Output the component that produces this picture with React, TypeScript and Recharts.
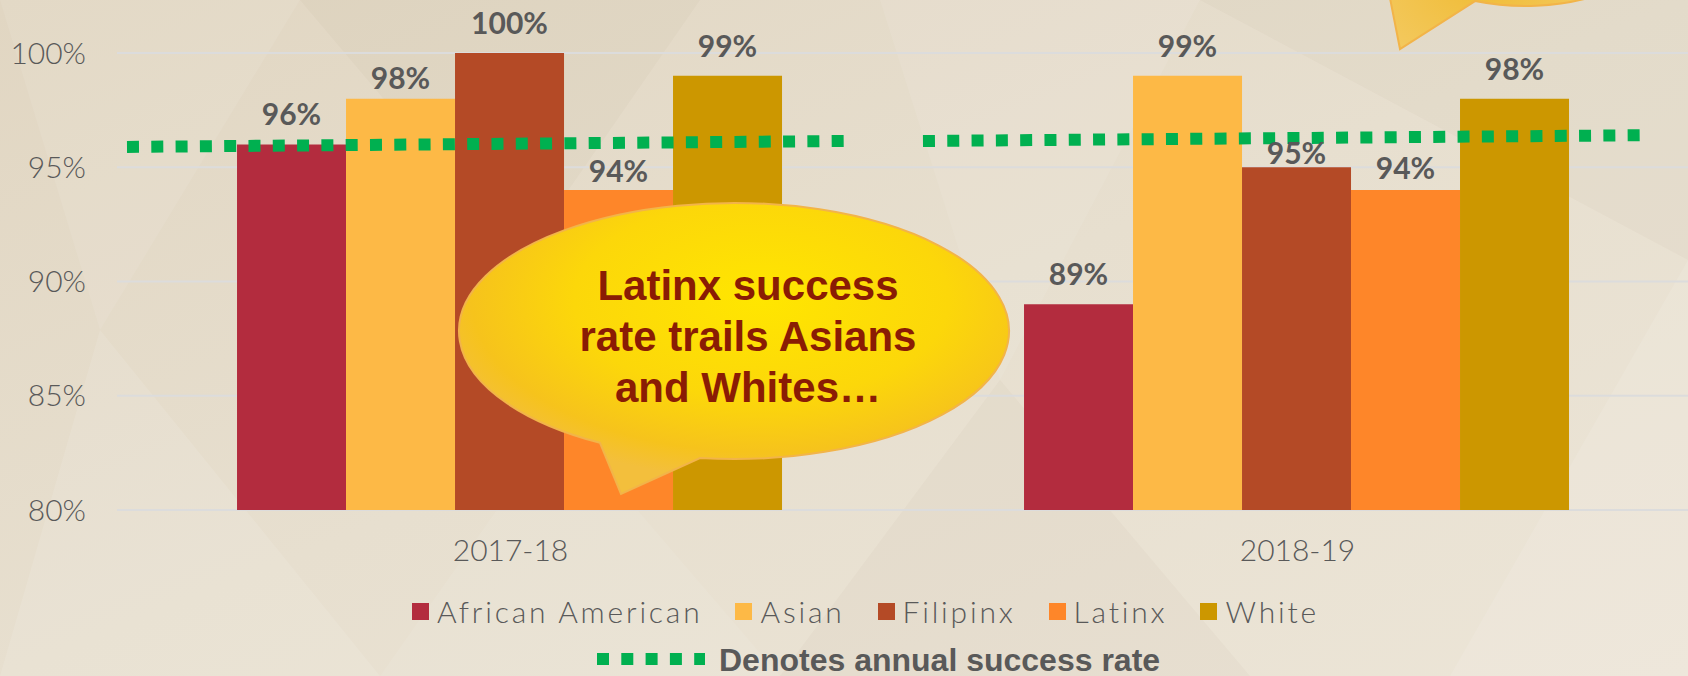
import React from 'react';
import { BarChart, Bar, XAxis, YAxis, CartesianGrid, ReferenceLine, LabelList, Legend } from 'recharts';

// ---- data ----
const categories = ['2017-18', '2018-19'];
const africanAmerican = [96, 89];
const asian = [98, 99];
const filipinx = [100, 95];
const latinx = [94, 94];
const white = [99, 98];
// annual success rate dotted line (value at the start / end of each year's line)
const annualRateStart = [95.89, 96.15];
const annualRateEnd = [96.15, 96.4];
const yTicks = [80, 85, 90, 95, 100];

const seriesNames = ['African American', 'Asian', 'Filipinx', 'Latinx', 'White'];
const seriesKeys = ['africanAmerican', 'asian', 'filipinx', 'latinx', 'white'];
const seriesValues = [africanAmerican, asian, filipinx, latinx, white];
const seriesColors = ['#b32c3e', '#fdb946', '#b44a26', '#fe8629', '#cc9700'];

const data = categories.map((year, i) => {
  const row: any = { year };
  seriesKeys.forEach((k, s) => {
    row[k] = seriesValues[s][i];
  });
  return row;
});

// ---- styling ----
const FONT = "Lato, 'Open Sans', 'DejaVu Sans', sans-serif";
const TEXT_GRAY = '#595959';
const GREEN = '#00b050';
// horizontal extent of each year's dotted line, as a fraction of its category band
const lineSpans = [
  [0.0127, 0.9238],
  [0.0241, 0.9365],
];
const labelNudge: Record<string, number> = {
  'asian-0': 10,
  'latinx-0': 8,
  'filipinx-1': 3.5,
  'latinx-1': 11,
};

const makeLabel = (key: string) => (props: any) => {
  const { x, y, width, value, index } = props;
  const off = labelNudge[`${key}-${index}`] ?? 19;
  return (
    <text
      x={Number(x) + Number(width) / 2}
      y={Number(y) - off}
      textAnchor="middle"
      fontFamily={FONT}
      fontWeight={700}
      fontSize={30}
      fill={TEXT_GRAY}
    >
      {`${value}%`}
    </text>
  );
};

// The annual line of year i, extended to the two band centres (u = 0.5 and 1.5)
// so the library's own scales give us two reference points on it.
const annualSegment = (i: number) => {
  const ua = i + lineSpans[i][0];
  const ub = i + lineSpans[i][1];
  const slope = (annualRateEnd[i] - annualRateStart[i]) / (ub - ua);
  const vAt = (u: number) => annualRateStart[i] + (u - ua) * slope;
  return [
    { x: categories[0], y: vAt(0.5) },
    { x: categories[1], y: vAt(1.5) },
  ];
};

const annualShape = (i: number) => (p: any) => {
  const x1 = Number(p.x1);
  const y1 = Number(p.y1);
  const x2 = Number(p.x2);
  const y2 = Number(p.y2);
  const at = (u: number) => ({ x: x1 + (u - 0.5) * (x2 - x1), y: y1 + (u - 0.5) * (y2 - y1) });
  const a = at(i + lineSpans[i][0]);
  const b = at(i + lineSpans[i][1]);
  return (
    <line
      x1={a.x}
      y1={a.y}
      x2={b.x}
      y2={b.y}
      stroke={GREEN}
      strokeWidth={12}
      strokeDasharray="12 12.3"
    />
  );
};

const renderLegend = (props: any) => {
  const payload = props.payload || [];
  return (
    <div style={{ position: 'relative', width: 1688, height: 96 }}>
      <div
        style={{
          position: 'absolute',
          left: 412,
          top: 11,
          height: 40,
          display: 'flex',
          alignItems: 'center',
          whiteSpace: 'nowrap',
        }}
      >
        {payload.map((p: any, i: number) => (
          <div key={i} style={{ display: 'flex', alignItems: 'center', marginRight: 33 }}>
            <span
              style={{ width: 17, height: 17, background: p.color, marginRight: 8, display: 'inline-block' }}
            />
            <span
              style={{ fontFamily: FONT, fontWeight: 300, fontSize: 30, letterSpacing: 2.8, color: TEXT_GRAY }}
            >
              {p.value}
            </span>
          </div>
        ))}
      </div>
      <svg style={{ position: 'absolute', left: 0, top: 0 }} width={1688} height={96}>
        <line x1={597} x2={705} y1={79} y2={79} stroke={GREEN} strokeWidth={12} strokeDasharray="12 12.3" />
        <text
          x={719}
          y={90.5}
          fontFamily="'Liberation Sans', Arial, sans-serif"
          fontWeight={700}
          fontSize={32}
          fill={TEXT_GRAY}
        >
          Denotes annual success rate
        </text>
      </svg>
    </div>
  );
};

const Background = () => (
  <svg width={1688} height={676} style={{ position: 'absolute', left: 0, top: 0 }}>
    <defs>
      <linearGradient id="bg" x1="0" y1="0" x2="1" y2="1">
        <stop offset="0%" stopColor="#e1d6c2" />
        <stop offset="50%" stopColor="#e7dfcf" />
        <stop offset="100%" stopColor="#ece5d7" />
      </linearGradient>
    </defs>
    <rect x={0} y={0} width={1688} height={676} fill="url(#bg)" />
    <polygon points="0,0 300,0 100,330" fill="#ffffff" opacity={0.08} />
    <polygon points="100,330 0,676 380,676" fill="#ffffff" opacity={0.1} />
    <polygon points="300,0 700,0 520,260" fill="#8a6d3b" opacity={0.03} />
    <polygon points="880,0 1200,0 1000,380" fill="#ffffff" opacity={0.08} />
    <polygon points="1000,380 780,676 1250,676" fill="#8a6d3b" opacity={0.03} />
    <polygon points="1200,0 1688,0 1688,260" fill="#8a6d3b" opacity={0.03} />
    <polygon points="1688,260 1450,676 1688,676" fill="#ffffff" opacity={0.1} />
    <polygon points="380,676 560,420 780,676" fill="#ffffff" opacity={0.07} />
  </svg>
);

// y on the lower half of an axis-aligned ellipse
const lowerY = (cx: number, cy: number, rx: number, ry: number, x: number) => {
  const t = (x - cx) / rx;
  return cy + ry * Math.sqrt(Math.max(0, 1 - t * t));
};

const calloutPath = (
  cx: number,
  cy: number,
  rx: number,
  ry: number,
  leftBaseX: number,
  rightBaseX: number,
  tipX: number,
  tipY: number
) => {
  const yl = lowerY(cx, cy, rx, ry, leftBaseX);
  const yr = lowerY(cx, cy, rx, ry, rightBaseX);
  return `M ${rightBaseX} ${yr} A ${rx} ${ry} 0 1 0 ${leftBaseX} ${yl} L ${tipX} ${tipY} Z`;
};

const Bubbles = () => (
  <svg width={1688} height={676} style={{ position: 'absolute', left: 0, top: 0, pointerEvents: 'none' }}>
    <defs>
      <radialGradient id="bub" cx="0.55" cy="0.33" r="0.62">
        <stop offset="0%" stopColor="#ffe600" />
        <stop offset="55%" stopColor="#fcd70a" />
        <stop offset="85%" stopColor="#f6c31c" />
        <stop offset="100%" stopColor="#f3bf3c" />
      </radialGradient>
      <radialGradient id="bub2" cx="0.35" cy="0.7" r="0.6">
        <stop offset="0%" stopColor="#f0bc36" />
        <stop offset="100%" stopColor="#f5cf72" />
      </radialGradient>
    </defs>
    {/* main callout */}
    <path d={calloutPath(734, 331, 275, 128, 600, 700, 621, 494)} fill="url(#bub)" stroke="#f2b449" strokeWidth={2} />
    <g
      fontFamily="'Liberation Sans', Arial, sans-serif"
      fontWeight={700}
      fontSize={42}
      fill="#8a1c04"
      textAnchor="middle"
    >
      <text x={748} y={300}>Latinx success</text>
      <text x={748} y={351}>rate trails Asians</text>
      <text x={748} y={402}>and Whites…</text>
    </g>
    {/* top-right callout (mostly outside the picture) */}
    <path d={calloutPath(1525, -80, 150, 86, 1378, 1475, 1400, 49)} fill="url(#bub2)" stroke="#f2b449" strokeWidth={2} />
  </svg>
);

export default function App() {
  return (
    <div
      style={{
        position: 'absolute',
        left: 0,
        top: 0,
        width: 1688,
        height: 676,
        overflow: 'hidden',
      }}
    >
      <Background />
      <div style={{ position: 'absolute', left: 0, top: 0 }}>
        <BarChart
          width={1700}
          height={676}
          data={data}
          margin={{ top: 53, right: 9, left: 0, bottom: 10 }}
          barCategoryGap="15.25%"
          barGap={0}
        >
          <CartesianGrid vertical={false} stroke="#dcdcdc" strokeWidth={2} />
          <XAxis
            dataKey="year"
            axisLine={false}
            tickLine={false}
            tickMargin={24}
            height={60}
            tick={{ fontFamily: FONT, fontWeight: 300, fontSize: 30, fill: TEXT_GRAY }}
          />
          <YAxis
            domain={[80, 100]}
            ticks={yTicks}
            allowDataOverflow
            tickFormatter={(v: number) => `${v}%`}
            axisLine={false}
            tickLine={false}
            width={117}
            tickMargin={25}
            tick={{ fontFamily: FONT, fontWeight: 300, fontSize: 30, fill: TEXT_GRAY }}
          />
          {seriesKeys.map((k, s) => (
            <Bar key={k} dataKey={k} name={seriesNames[s]} fill={seriesColors[s]} isAnimationActive={false}>
              <LabelList dataKey={k} content={makeLabel(k)} />
            </Bar>
          ))}
          {categories.map((c, i) => (
            <ReferenceLine
              key={c}
              segment={annualSegment(i)}
              position="middle"
              stroke={GREEN}
              strokeWidth={12}
              shape={annualShape(i)}
            />
          ))}
          <Legend
            content={renderLegend}
            wrapperStyle={{ position: 'absolute', left: 0, top: 580, bottom: 'auto', width: 1688, height: 96 }}
          />
        </BarChart>
      </div>
      <Bubbles />
    </div>
  );
}
